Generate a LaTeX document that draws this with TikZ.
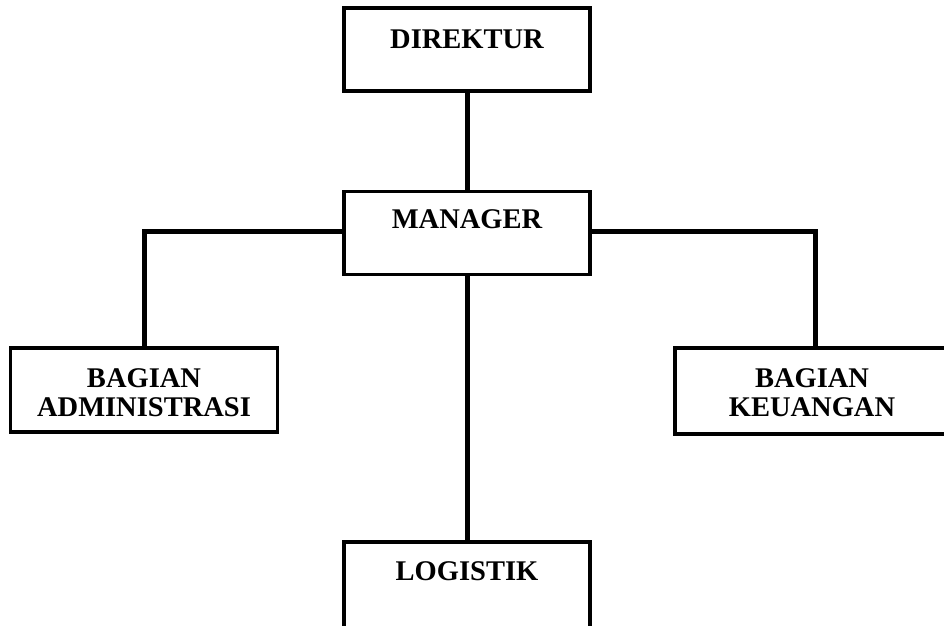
\documentclass[tikz,border=0pt]{standalone}
\usepackage{fontspec}
\setmainfont{Liberation Serif}
\begin{document}
\begin{tikzpicture}[x=1pt,y=-1pt,
  box/.style={draw=black,line width=3.5pt,inner sep=0pt,minimum width=#1},
  box/.default=246pt,
  lbl/.style={anchor=base,inner sep=0pt,font=\fontsize{28.5}{29}\selectfont\bfseries},
  conn/.style={line width=5pt,line cap=rect}]
\useasboundingbox (0,0) rectangle (944,625);
\clip (0,0) rectangle (944,625);
\node[box=246pt,minimum height=83pt] (dir) at (467,49.5) {};
\node[box=246pt,minimum height=83pt] (man) at (467,233) {};
\node[box=267pt,minimum height=84pt] (adm) at (144,390) {};
\node[box=280pt,minimum height=86pt] (keu) at (815,391) {};
\node[box=246pt,minimum height=86pt] (log) at (467,585) {};
\node[lbl] (tdir) at ([yshift=-42pt]dir.north) {DIREKTUR};
\node[lbl] (tman) at ([yshift=-39pt]man.north) {MANAGER};
\node[lbl] (tadm1) at ([yshift=-41pt]adm.north) {BAGIAN};
\node[lbl] (tadm2) at ([yshift=-70pt]adm.north) {ADMINISTRASI};
\node[lbl] (tkeu1) at ([xshift=-3pt,yshift=-41pt]keu.north) {BAGIAN};
\node[lbl] (tkeu2) at ([xshift=-3pt,yshift=-70pt]keu.north) {KEUANGAN};
\node[lbl] (tlog) at ([yshift=-40pt]log.north) {LOGISTIK};
\draw[conn] (dir.south) -- (man.north);
\draw[conn] ([yshift=2pt]man.west) -| (adm.north);
\draw[conn] ([yshift=2pt]man.east) -| (keu.north);
\draw[conn] (man.south) -- (log.north);
\end{tikzpicture}
\end{document}
